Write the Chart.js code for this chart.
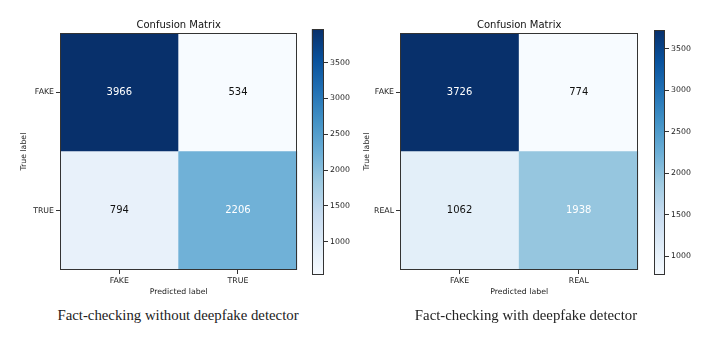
<!DOCTYPE html>
<html>
<head>
<meta charset="utf-8">
<script src="https://cdn.jsdelivr.net/npm/chart.js@4.4.1/dist/chart.umd.min.js"></script>
<style>
  body { margin: 0; background: #fff; }
  #wrap { position: relative; width: 713px; height: 347px; overflow: hidden; }
  canvas { position: absolute; top: 0; }
  .cap { position: absolute; top: 307px; font-family: "Liberation Serif", serif; font-size: 14.8px; color: #222; white-space: nowrap; transform: translateX(-50%); }
</style>
</head>
<body>
<div id="wrap">
  <canvas id="cmLeft" width="310" height="300" style="left:0"></canvas>
  <canvas id="cbLeft" width="60" height="300" style="left:300px"></canvas>
  <canvas id="cmRight" width="300" height="300" style="left:350px"></canvas>
  <canvas id="cbRight" width="60" height="300" style="left:640px"></canvas>
  <div class="cap" style="left:178px">Fact-checking without deepfake detector</div>
  <div class="cap" style="left:526px">Fact-checking with deepfake detector</div>
</div>
<script>
// 데이터
const leftLabels = ["FAKE", "TRUE"];
const leftFakeRow = [3966, 534];
const leftTrueRow = [794, 2206];

const rightLabels = ["FAKE", "REAL"];
const rightFakeRow = [3726, 774];
const rightRealRow = [1062, 1938];

const cbarStep = 500; // 컬러바 눈금 간격

// matplotlib Blues
const BLUES = ["#f7fbff", "#deebf7", "#c6dbef", "#9ecae1", "#6baed6", "#4292c6", "#2171b5", "#08519c", "#08306b"];

function hexToRgb(h) {
    return [1, 3, 5].map(i => parseInt(h.substr(i, 2), 16));
}
function blues(t) {
    t = Math.max(0, Math.min(1, t));
    const p = t * (BLUES.length - 1);
    const i = Math.min(Math.floor(p), BLUES.length - 2);
    const f = p - i;
    const a = hexToRgb(BLUES[i]), b = hexToRgb(BLUES[i + 1]);
    const c = a.map((v, k) => Math.round(v + (b[k] - v) * f));
    return `rgb(${c[0]},${c[1]},${c[2]})`;
}

Chart.defaults.font.family = "'DejaVu Sans', sans-serif";
Chart.defaults.color = "#222";

const frame = {
    id: "frame",
    afterDraw(chart) {
        const a = chart.chartArea, c = chart.ctx;
        c.save();
        c.strokeStyle = "#333";
        c.lineWidth = 1;
        c.strokeRect(Math.round(a.left) + 0.5, Math.round(a.top) + 0.5,
            Math.round(a.right - a.left) - 1, Math.round(a.bottom - a.top) - 1);
        c.restore();
    },
};

// 셀 숫자 + 제목 (플롯 영역 가운데)
const cellText = {
    id: "cellText",
    afterDatasetsDraw(chart) {
        const c = chart.ctx;
        const a = chart.chartArea;
        const thresh = chart.options.cmMax / 2;
        c.save();
        c.font = "10px 'DejaVu Sans'";
        c.textAlign = "center";
        c.textBaseline = "middle";
        chart.data.datasets.forEach((ds, di) => {
            chart.getDatasetMeta(di).data.forEach((bar, i) => {
                const v = ds.counts[i];
                const p = bar.getCenterPoint();
                c.fillStyle = v > thresh ? "#fff" : "#111";
                c.fillText(String(v), p.x, p.y);
            });
        });
        c.fillStyle = "#111";
        c.fillText("Confusion Matrix", (a.left + a.right) / 2, 25);
        c.restore();
    },
};

function makeMatrix(id, labels, rows, yAxisW, yTitlePad, padRight) {
    const all = rows.flat();
    const vmin = Math.min(...all), vmax = Math.max(...all);
    const n = rows.length;
    // 아래 행부터 쌓기
    const datasets = rows.slice().reverse().map(row => ({
        data: row.map(() => 1),
        counts: row,
        backgroundColor: row.map(v => blues((v - vmin) / (vmax - vmin))),
        borderWidth: 0,
        barPercentage: 1,
        categoryPercentage: 1,
    }));
    new Chart(document.getElementById(id), {
        type: "bar",
        data: { labels: labels, datasets: datasets },
        options: {
            responsive: false,
            animation: false,
            cmMax: vmax,
            layout: { padding: { right: padRight, left: 0, bottom: 0, top: 33.3 } },
            plugins: {
                legend: { display: false },
                tooltip: { enabled: false },
            },
            scales: {
                x: {
                    stacked: true,
                    afterFit(s) { s.height = 30; },
                    grid: { offset: false, drawOnChartArea: false, tickLength: 4, color: "#333" },
                    border: { display: false },
                    ticks: { font: { size: 7.8 }, padding: 2, maxRotation: 0 },
                    title: { display: true, text: "Predicted label", font: { size: 7.8 }, padding: { bottom: 3.6, top: 0 } },
                },
                y: {
                    stacked: true, min: 0, max: n,
                    afterFit(s) { s.width = yAxisW; },
                    afterBuildTicks(s) { s.ticks = labels.map((_, i) => ({ value: i + 0.5 })); },
                    grid: { drawOnChartArea: false, tickLength: 4, color: "#333" },
                    border: { display: false },
                    ticks: {
                        font: { size: 7.8 }, padding: 2,
                        callback: v => labels[n - 1 - Math.floor(v)],
                    },
                    title: { display: true, text: "True label", font: { size: 7.8 }, padding: { top: yTitlePad, bottom: 0 } },
                },
            },
        },
        plugins: [cellText, frame],
    });
}

function makeColorbar(id, rows, padLeft, padTop, padBottom, axisW) {
    const all = rows.flat();
    const vmin = Math.min(...all), vmax = Math.max(...all);
    new Chart(document.getElementById(id), {
        type: "bar",
        data: {
            labels: [""],
            datasets: [{
                data: [[vmin, vmax]],
                borderWidth: 0,
                barPercentage: 1,
                categoryPercentage: 1,
                backgroundColor(ctx) {
                    const a = ctx.chart.chartArea;
                    if (!a) return BLUES[0];
                    const g = ctx.chart.ctx.createLinearGradient(0, a.bottom, 0, a.top);
                    BLUES.forEach((col, i) => g.addColorStop(i / (BLUES.length - 1), col));
                    return g;
                },
            }],
        },
        options: {
            responsive: false,
            animation: false,
            layout: { padding: { left: padLeft, top: padTop, bottom: padBottom, right: 0 } },
            plugins: { legend: { display: false }, tooltip: { enabled: false } },
            scales: {
                x: { display: false },
                y: {
                    position: "right", min: vmin, max: vmax,
                    afterFit(s) { s.width = axisW; },
                    afterBuildTicks(s) {
                        const t = [];
                        for (let v = Math.ceil(vmin / cbarStep) * cbarStep; v <= vmax; v += cbarStep) t.push({ value: v });
                        s.ticks = t;
                    },
                    grid: { drawOnChartArea: false, tickLength: 4, color: "#333" },
                    border: { display: false },
                    ticks: { font: { size: 7.8 }, padding: 2, callback: v => String(v) },
                },
            },
        },
        plugins: [frame],
    });
}

makeMatrix("cmLeft", leftLabels, [leftFakeRow, leftTrueRow], 60, 19.3, 12.7);
makeColorbar("cbLeft", [leftFakeRow, leftTrueRow], 11.7, 29.3, 25, 36);

makeMatrix("cmRight", rightLabels, [rightFakeRow, rightRealRow], 50, 12, 11.7);
makeColorbar("cbRight", [rightFakeRow, rightRealRow], 14, 30, 25, 35);
</script>
</body>
</html>
